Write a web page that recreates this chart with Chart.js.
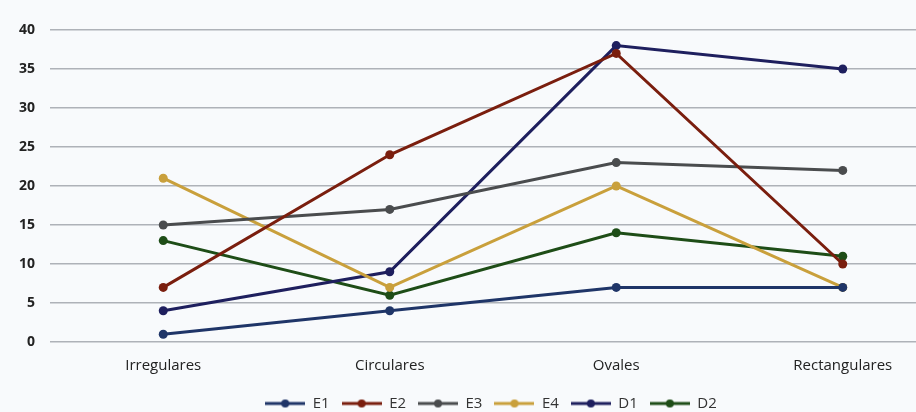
<!DOCTYPE html>
<html>
<head>
<meta charset="utf-8">
<script src="https://cdn.jsdelivr.net/npm/chart.js@4/dist/chart.umd.min.js"></script>
<style>
  html, body { margin: 0; padding: 0; background: #F8FAFC; overflow: hidden; }
  #wrap { width: 982px; height: 412px; }
</style>
</head>
<body>
<div id="wrap"><canvas id="c" width="982" height="412"></canvas></div>
<script>
const categories = ['Irregulares', 'Circulares', 'Ovales', 'Rectangulares'];
const yTicks = [0, 5, 10, 15, 20, 25, 30, 35, 40];

const seriesNames = ['E1', 'E2', 'E3', 'E4', 'D1', 'D2'];
const E1 = [1, 4, 7, 7];
const E2 = [7, 24, 37, 10];
const E3 = [15, 17, 23, 22];
const E4 = [21, 7, 20, 7];
const D1 = [4, 9, 38, 35];
const D2 = [13, 6, 14, 11];
const seriesValues = [E1, E2, E3, E4, D1, D2];
const seriesColors = ['#1F3568', '#7A1E0E', '#4A4C4E', '#C9A03C', '#1E1F5E', '#1E4D17'];

// Legend marker: a short line with a dot in the middle
function legendMarker(color) {
  const cv = document.createElement('canvas');
  cv.width = 40; cv.height = 10;
  const g = cv.getContext('2d');
  g.strokeStyle = color;
  g.lineWidth = 3;
  g.beginPath(); g.moveTo(0, 5); g.lineTo(40, 5); g.stroke();
  g.fillStyle = color;
  g.beginPath(); g.arc(20, 5, 4, 0, Math.PI * 2); g.fill();
  return cv;
}

// Center the legend under the full canvas width rather than the padded box
const legendShift = {
  id: 'legendShift',
  afterLayout(chart) {
    if (chart.legend) { chart.legend.left += 13; chart.legend.right += 13; }
  }
};

const datasets = seriesNames.map((name, i) => ({
  label: name,
  data: seriesValues[i],
  borderColor: seriesColors[i],
  backgroundColor: seriesColors[i],
  borderWidth: 3,
  pointRadius: 4.5,
  pointHoverRadius: 4.5,
  pointBackgroundColor: seriesColors[i],
  pointBorderWidth: 0,
  tension: 0,
  fill: false
}));

new Chart(document.getElementById('c'), {
  type: 'line',
  data: { labels: categories, datasets },
  plugins: [legendShift],
  options: {
    responsive: false,
    animation: false,
    layout: { padding: { top: 30, right: 26, left: 0, bottom: -9 } },
    plugins: {
      legend: {
        position: 'bottom',
        labels: {
          usePointStyle: true,
          pointStyleWidth: 40,
          padding: 12,
          color: '#333',
          font: { family: 'Open Sans', size: 15 },
          generateLabels(chart) {
            const items = Chart.defaults.plugins.legend.labels.generateLabels(chart);
            items.forEach((it, i) => { it.pointStyle = legendMarker(seriesColors[i]); });
            return items;
          }
        }
      },
      tooltip: { enabled: false }
    },
    scales: {
      x: {
        offset: true,
        grid: { display: false, drawTicks: false },
        border: { display: false },
        afterFit(scale) { scale.height -= 6; },
        ticks: { color: '#222', font: { family: 'Open Sans', size: 15 }, padding: 15 }
      },
      y: {
        min: 0, max: 40,
        afterBuildTicks(scale) { scale.ticks = yTicks.map(v => ({ value: v })); },
        afterFit(scale) { scale.width = 50; },
        grid: { color: '#AEB2B8', lineWidth: 1.5, drawTicks: false },
        border: { display: false },
        ticks: { color: '#222', font: { family: 'Open Sans', size: 14, weight: 'bold' }, padding: 15 }
      }
    }
  }
});
</script>
</body>
</html>
